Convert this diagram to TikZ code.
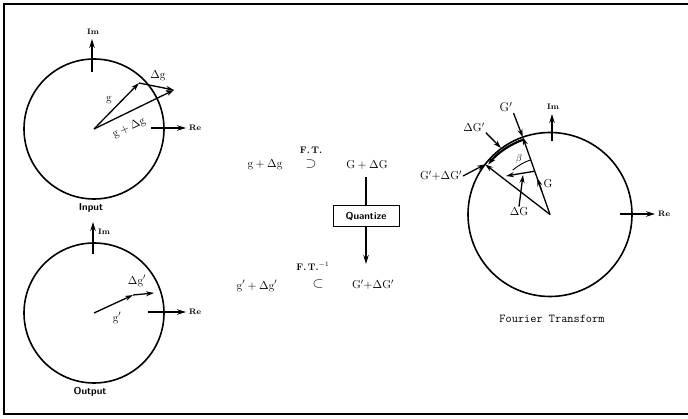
\documentclass[tikz,border=0pt]{standalone}
\usepackage{fix-cm}
\usepackage{fontspec}
\usetikzlibrary{arrows.meta,calc}
\begin{document}
\begin{tikzpicture}[x=1pt,y=-1pt,
  frame/.style={line width=2.5pt},
  ring/.style={line width=1.6pt},
  vec/.style={line width=1.3pt,-{Stealth[length=8pt,width=5pt]}},
  axisarrow/.style={line width=1.3pt,-{Stealth[length=9pt,width=5.5pt]}},
  lbl/.style={inner sep=1pt,font=\fontsize{11.5}{13}\selectfont},
  biglbl/.style={inner sep=1pt,font=\fontsize{12.5}{14}\selectfont},
  symlbl/.style={inner sep=1pt,font=\fontsize{14}{16}\selectfont},
  axlbl/.style={inner sep=1pt,font=\fontsize{8}{10}\selectfont\bfseries},
  caplbl/.style={inner sep=1pt,font=\fontsize{10}{12}\selectfont\sffamily\bfseries},
  ftlbl/.style={inner sep=1pt,font=\fontsize{9.5}{11}\selectfont\bfseries},
  ]
\useasboundingbox (0,0) rectangle (688,419);
\draw[frame] (688,4) -- (4,4) -- (4,414) -- (688,414);

% ---------- Input circle ----------
\coordinate (c1) at (94,129);
\draw[ring] (c1) circle (70pt);
\coordinate (g1) at (139,83);
\coordinate (gd1) at (174,90);
\draw[vec] (c1) -- (g1);
\draw[vec] (g1) -- (gd1);
\draw[vec] (c1) -- (gd1);
\node[lbl] (lg1) at (109,100) {$\mathrm{g}$};
\node[lbl] (ldg1) at (158,76) {$\Delta\mathrm{g}$};
\node[lbl,rotate=25] (lgdg1) at (129,128) {$\mathrm{g}+\Delta\mathrm{g}$};
\coordinate (im1a) at (92,72);
\coordinate (im1b) at (92,39);
\draw[axisarrow] (im1a) -- (im1b);
\node[axlbl,anchor=south] (im1) at (93,36) {Im};
\coordinate (re1a) at (151,128);
\coordinate (re1b) at (186,128);
\draw[axisarrow] (re1a) -- (re1b);
\node[axlbl,anchor=west] (re1) at (188,128) {Re};
\node[caplbl] (inp) at (91,208) {Input};

% ---------- Output circle ----------
\coordinate (c2) at (94,313);
\draw[ring] (c2) circle (70pt);
\coordinate (g2) at (133,295);
\coordinate (gd2) at (154,293);
\draw[vec] (c2) -- (g2);
\draw[vec] (g2) -- (gd2);
\node[lbl] (ldg2) at (137,281) {$\Delta\mathrm{g}'$};
\node[lbl] (lg2) at (117,318) {$\mathrm{g}'$};
\coordinate (im2a) at (93,254);
\coordinate (im2b) at (93,222);
\draw[axisarrow] (im2a) -- (im2b);
\node[axlbl,anchor=west] (im2) at (97,232) {Im};
\coordinate (re2a) at (148,312);
\coordinate (re2b) at (186,312);
\draw[axisarrow] (re2a) -- (re2b);
\node[axlbl,anchor=west] (re2) at (188,312) {Re};
\node[caplbl] (outp) at (90,392) {Output};

% ---------- Middle ----------
\node[lbl] (e1) at (265,165) {$\mathrm{g}+\Delta\mathrm{g}$};
\node[ftlbl] (ft1) at (311,150) {F.\,T.};
\node[symlbl] (sup) at (311,164) {$\supset$};
\node[lbl] (e2) at (367,165) {$\mathrm{G}+\Delta\mathrm{G}$};
\node[draw,line width=1pt,caplbl,minimum width=66pt,minimum height=21pt] (q) at (366,216.5) {Quantize};
\node[lbl] (e3) at (257,286) {$\mathrm{g}'+\Delta\mathrm{g}'$};
\node[ftlbl] (ft2) at (313,266) {F.\,T.$^{-1}$};
\node[symlbl] (sub) at (318,284) {$\subset$};
\node[lbl] (e4) at (373,285) {$\mathrm{G}'{+}\Delta\mathrm{G}'$};
\coordinate (qtop) at (366,177);
\coordinate (qbot) at (366,264);
\draw[line width=1.1pt] (qtop) -- (q.north);
\draw[axisarrow] (q.south) -- (qbot);

% ---------- Fourier transform circle ----------
\coordinate (c3) at (550,214.5);
\draw[ring] (c3) circle (82pt);
\coordinate (Gp) at ($(c3)+(109.4:82pt)$);
\coordinate (GpdG) at ($(c3)+(142.3:82pt)$);
\draw[vec] (c3) -- (Gp);
\draw[vec] (c3) -- (GpdG);
\draw[vec] ($(c3)!0.3!(Gp)$) -- ($(c3)!0.47!(Gp)$);
\draw[line width=2.2pt,-{Stealth[length=8pt,width=5.5pt]}] ($(c3)+(109.4:79.5pt)$) arc[start angle=109.4,end angle=141,radius=79.5pt];
\draw[line width=0.9pt] ($(c3)+(109.4:58pt)$) arc[start angle=109.4,end angle=130,radius=58pt];
\node[inner sep=1pt,font=\fontsize{10}{12}\selectfont] (beta) at (519,159) {$\beta$};
\coordinate (dGs) at ($(c3)!0.56!(Gp)$);
\coordinate (dGe) at (506,176);
\draw[vec] (dGs) -- (dGe);
\node[lbl] (ldG) at (519,212) {$\Delta\mathrm{G}$};
\coordinate (dGp) at (523,175);
\draw[vec] (ldG.north) -- (dGp);
\node[lbl] (lG) at (548,184) {$\mathrm{G}$};
\node[biglbl] (lGp) at (506,107) {$\mathrm{G}'$};
\draw[vec] (lGp.south east) -- (Gp);
\node[lbl] (ldGp) at (474,127) {$\Delta\mathrm{G}'$};
\coordinate (dGpt) at (501,148);
\draw[vec] (ldGp.south east) -- (dGpt);
\node[lbl] (lGpdG) at (441,176) {$\mathrm{G}'{+}\Delta\mathrm{G}'$};
\draw[vec] (lGpdG.east) -- (GpdG);
\coordinate (im3a) at (552,141);
\coordinate (im3b) at (552,114);
\draw[axisarrow] (im3a) -- (im3b);
\node[axlbl,anchor=south] (im3) at (553,111) {Im};
\coordinate (re3a) at (620,214);
\coordinate (re3b) at (655,214);
\draw[axisarrow] (re3a) -- (re3b);
\node[axlbl,anchor=west] (re3) at (657,214) {Re};
\node[inner sep=1pt,font=\fontsize{12}{14}\selectfont\ttfamily] (ftxt) at (552,319) {Fourier Transform};
\end{tikzpicture}
\end{document}
